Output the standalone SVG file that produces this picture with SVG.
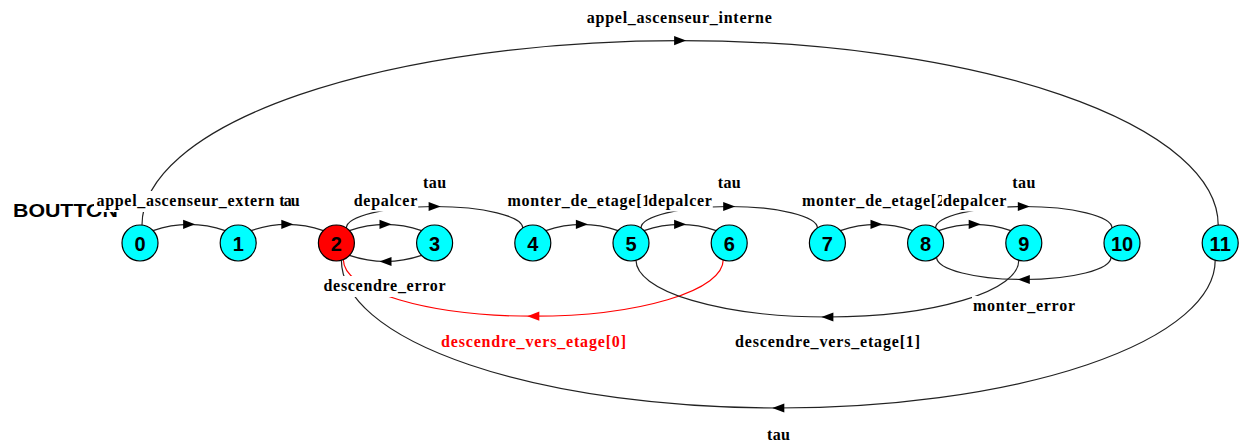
<svg xmlns="http://www.w3.org/2000/svg" xmlns:xlink="http://www.w3.org/1999/xlink" width="1241" height="441" viewBox="0 0 1241 441">
<defs>
<style>
.e{fill:none;stroke:#222;stroke-width:1.2}
.er{fill:none;stroke:#ff0000;stroke-width:1.2}
.ah{fill:#000}
.ahr{fill:#ff0000}
.bg{fill:#fff}
.lb{font-family:"Liberation Serif","Times New Roman",serif;font-weight:bold;font-size:16px;fill:#000;text-anchor:middle}
.lbr{fill:#ff0000}
.n circle{fill:#00ffff;stroke:#000;stroke-width:1.2}
.n.red circle{fill:#ff0000}
.n text{font-family:"Liberation Sans",Arial,sans-serif;font-weight:bold;font-size:20px;fill:#000;text-anchor:middle}
.title{font-family:"Liberation Sans",Arial,sans-serif;font-weight:bold;font-size:18.6px;fill:#000}
</style>
<path id="ar" d="M6,0 L-6,-4.6 L-6,4.6 Z"/>
</defs>
<rect width="1241" height="441" fill="#fff"/>
<text class="title" x="13" y="217" textLength="105" lengthAdjust="spacingAndGlyphs">BOUTTON</text>
<g id="connectors">
<path class="e" d="M142,225.1 A538.1,184.5 0 0 1 1218.2,225.1"/>
<use xlink:href="#ar" class="ah" transform="translate(680.1,40.6)"/>
<path class="e" d="M1215.2,260.3 A436.9,147.7 0 0 1 341.4,260.3"/>
<use xlink:href="#ar" class="ah" transform="translate(778.3,408) rotate(180)"/>
<path class="er" d="M723.2,260 A189.9,56.2 0 0 1 343.4,260"/>
<use xlink:href="#ar" class="ahr" transform="translate(533.3,316.2) rotate(180)"/>
<path class="e" d="M1018.8,260.3 A191.4,56.7 0 0 1 636,260.3"/>
<use xlink:href="#ar" class="ah" transform="translate(827.4,317) rotate(180)"/>
<path class="e" d="M1111,257.2 A87.2,22.3 0 0 1 936.6,257.2"/>
<use xlink:href="#ar" class="ah" transform="translate(1023.8,279.5) rotate(180)"/>
<path class="e" d="M421.6,255.4 Q385.5,267.6 349.4,255.4"/>
<use xlink:href="#ar" class="ah" transform="translate(385.5,261.5) rotate(180)"/>
<path class="e" d="M153,230.6 Q189.1,218 225.2,230.6"/>
<use xlink:href="#ar" class="ah" transform="translate(189.1,224.3)"/>
<path class="e" d="M251.2,230.6 Q287.3,218 323.4,230.6"/>
<use xlink:href="#ar" class="ah" transform="translate(287.3,224.3)"/>
<path class="e" d="M349.4,230.6 Q385.5,218 421.6,230.6"/>
<use xlink:href="#ar" class="ah" transform="translate(385.5,224.3)"/>
<path class="e" d="M545.8,230.6 Q581.9,218 618,230.6"/>
<use xlink:href="#ar" class="ah" transform="translate(581.9,224.3)"/>
<path class="e" d="M644,230.6 Q680.1,218 716.2,230.6"/>
<use xlink:href="#ar" class="ah" transform="translate(680.1,224.3)"/>
<path class="e" d="M840.4,230.6 Q876.5,218 912.6,230.6"/>
<use xlink:href="#ar" class="ah" transform="translate(876.5,224.3)"/>
<path class="e" d="M938.6,230.6 Q974.7,218 1010.8,230.6"/>
<use xlink:href="#ar" class="ah" transform="translate(974.7,224.3)"/>
<path class="e" d="M346.4,228 A88.2,21.5 0 0 1 522.8,228"/>
<use xlink:href="#ar" class="ah" transform="translate(434.6,206.5)"/>
<path class="e" d="M641,228 A88.2,21.5 0 0 1 817.4,228"/>
<use xlink:href="#ar" class="ah" transform="translate(729.2,206.5)"/>
<path class="e" d="M935.6,228 A88.2,21.5 0 0 1 1112,228"/>
<use xlink:href="#ar" class="ah" transform="translate(1023.8,206.5)"/>
</g>
<g id="labels">
<rect class="bg" x="585.8" y="7.5" width="187" height="21"/>
<text class="lb" x="679.3" y="22.5" textLength="185">appel_ascenseur_interne</text>
<rect class="bg" x="94" y="191" width="183" height="21"/>
<text class="lb" x="185.5" y="206" textLength="178">appel_ascenseur_extern</text>
<text class="lb" x="289.5" y="206" textLength="20.5">tau</text>
<rect class="bg" x="352.7" y="190.5" width="65.5" height="21"/>
<text class="lb" x="385.5" y="205.5" textLength="63.5">depalcer</text>
<text class="lb" x="434.6" y="188" textLength="23">tau</text>
<rect class="bg" x="322.5" y="276" width="124" height="21"/>
<text class="lb" x="384.5" y="291" textLength="122">descendre_error</text>
<rect class="bg" x="506.4" y="191" width="151" height="21"/>
<text class="lb" x="581.9" y="206" textLength="149">monter_de_etage[1]</text>
<rect class="bg" x="647.3" y="190.5" width="65.5" height="21"/>
<text class="lb" x="680.1" y="205.5" textLength="63.5">depalcer</text>
<text class="lb" x="729.2" y="188" textLength="23">tau</text>
<rect class="bg" x="440" y="332" width="187" height="21"/>
<text class="lb lbr" x="533.5" y="347" textLength="185">descendre_vers_etage[0]</text>
<rect class="bg" x="801" y="191" width="151" height="21"/>
<text class="lb" x="876.5" y="206" textLength="149">monter_de_etage[2]</text>
<rect class="bg" x="941.9" y="190.5" width="65.5" height="21"/>
<text class="lb" x="974.7" y="205.5" textLength="63.5">depalcer</text>
<text class="lb" x="1023.8" y="188" textLength="23">tau</text>
<rect class="bg" x="972" y="296" width="104" height="21"/>
<text class="lb" x="1024" y="311" textLength="102">monter_error</text>
<rect class="bg" x="734" y="332" width="187" height="21"/>
<text class="lb" x="827.5" y="347" textLength="185">descendre_vers_etage[1]</text>
<text class="lb" x="778.5" y="440" textLength="23">tau</text>
</g>
<g id="node0" class="n"><circle cx="140" cy="243" r="18"/><text x="140" y="250.5">0</text></g>
<g id="node1" class="n"><circle cx="238.2" cy="243" r="18"/><text x="238.2" y="250.5">1</text></g>
<g id="node2" class="n red"><circle cx="336.4" cy="243" r="18"/><text x="336.4" y="250.5">2</text></g>
<g id="node3" class="n"><circle cx="434.6" cy="243" r="18"/><text x="434.6" y="250.5">3</text></g>
<g id="node4" class="n"><circle cx="532.8" cy="243" r="18"/><text x="532.8" y="250.5">4</text></g>
<g id="node5" class="n"><circle cx="631" cy="243" r="18"/><text x="631" y="250.5">5</text></g>
<g id="node6" class="n"><circle cx="729.2" cy="243" r="18"/><text x="729.2" y="250.5">6</text></g>
<g id="node7" class="n"><circle cx="827.4" cy="243" r="18"/><text x="827.4" y="250.5">7</text></g>
<g id="node8" class="n"><circle cx="925.6" cy="243" r="18"/><text x="925.6" y="250.5">8</text></g>
<g id="node9" class="n"><circle cx="1023.8" cy="243" r="18"/><text x="1023.8" y="250.5">9</text></g>
<g id="node10" class="n"><circle cx="1122" cy="243" r="18"/><text x="1122" y="250.5">10</text></g>
<g id="node11" class="n"><circle cx="1220.2" cy="243" r="18"/><text x="1220.2" y="250.5">11</text></g>
</svg>
